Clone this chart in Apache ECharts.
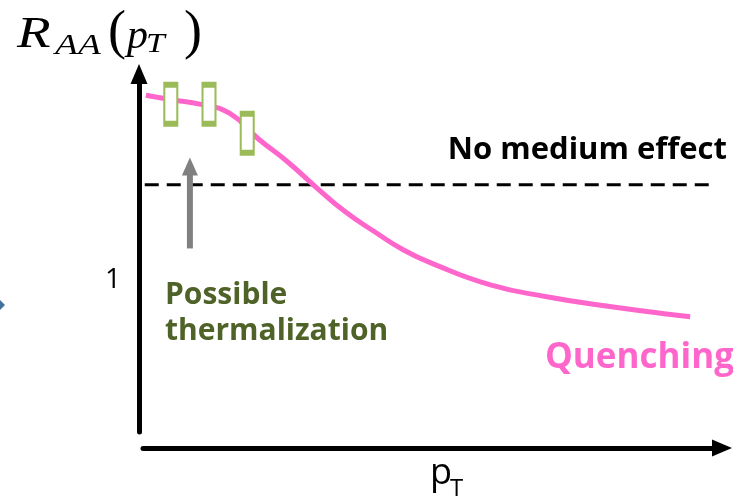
<!DOCTYPE html>
<html>
<head>
<meta charset="utf-8">
<script src="https://cdn.jsdelivr.net/npm/echarts@6/dist/echarts.min.js"></script>
<style>
html, body { margin: 0; padding: 0; background: #fff; }
#chart { width: 733px; height: 501px; }
</style>
</head>
<body>
<div id="chart"></div>
<script>
// schematic R_AA(pT), arbitrary units (y = 1 where the "1" label sits)
var curvePt = [0.05, 0.5, 1, 1.5, 2, 2.5, 3, 3.5, 4, 4.5, 5, 6, 7, 8, 9, 9.45];
var curveRaa = [2.22, 2.19, 2.16, 2.10, 1.93, 1.78, 1.61, 1.45, 1.32, 1.20, 1.11, 0.97, 0.89, 0.83, 0.78, 0.76];
var boxPt = [0.48, 1.14, 1.80];
var boxRaa = [2.16, 2.16, 1.97];
var refLevel = 1.63;          // "No medium effect"
var refRange = [0.03, 9.85];
var arrowPt = 0.81;
var arrowRaa = [1.21, 1.75];
var yTicks = [1];

var chart = echarts.init(document.getElementById('chart'));

var curveData = curvePt.map(function (x, i) { return [x, curveRaa[i]]; });
var boxData = boxPt.map(function (x, i) { return [x, boxRaa[i]]; });
var refData = refRange.map(function (x) { return [x, refLevel]; });

var serif = '"Liberation Serif"';

function txt(x, y, text, font, fill, align, sx) {
    return {
        type: 'text', x: x, y: y, scaleX: sx || 1,
        style: { text: text, font: font, fill: fill || '#000', align: align || 'left', verticalAlign: 'middle' }
    };
}

var option = {
    animation: false,
    backgroundColor: '#fff',
    grid: { left: 143, right: 11, top: 74, bottom: 69 },
    xAxis: {
        type: 'value',
        min: 0,
        max: 10,
        offset: 16,
        axisLine: {
            show: true,
            onZero: false,
            symbol: ['none', 'triangle'],
            symbolSize: [17, 20],
            lineStyle: { color: '#000', width: 5 }
        },
        axisTick: { show: false },
        axisLabel: { show: false },
        splitLine: { show: false }
    },
    yAxis: {
        type: 'value',
        min: 0,
        max: 2.36,
        interval: 1,
        offset: 4,
        axisLine: {
            show: true,
            onZero: false,
            symbol: ['none', 'triangle'],
            symbolSize: [17, 20],
            lineStyle: { color: '#000', width: 5 }
        },
        axisTick: { show: false },
        splitLine: { show: false },
        axisLabel: {
            margin: 18,
            color: '#000',
            fontSize: 28,
            fontFamily: 'Open Sans',
            formatter: function (v) { return yTicks.indexOf(v) >= 0 ? String(v) : ''; }
        }
    },
    series: [
        {
            type: 'line',
            data: refData,
            symbol: 'none',
            silent: true,
            lineStyle: { color: '#000', width: 3, type: [14, 8] },
            z: 1
        },
        {
            type: 'line',
            data: curveData,
            smooth: true,
            symbol: 'none',
            silent: true,
            lineStyle: { color: '#FF66CC', width: 5 },
            z: 2
        },
        {
            type: 'scatter',
            data: boxData,
            symbol: 'rect',
            symbolSize: [13, 39],
            silent: true,
            itemStyle: { color: '#fff', borderColor: '#9BBB59', borderWidth: 3.5, opacity: 1 },
            z: 3
        },
        {
            type: 'line',
            data: [
                { value: [arrowPt, arrowRaa[0]], symbol: 'none' },
                { value: [arrowPt, arrowRaa[1]], symbol: 'triangle', symbolSize: [16, 18] }
            ],
            showSymbol: true,
            silent: true,
            lineStyle: { color: '#808080', width: 6 },
            itemStyle: { color: '#808080' },
            z: 4
        }
    ],
    graphic: [
        // title R_AA(p_T), letters a little stretched sideways like the slide
        txt(17, 35.4, 'R', 'italic 44px ' + serif, '#000', 'left', 1.25),
        txt(55, 45.7, 'AA', 'italic 30px ' + serif, '#000', 'left', 1.25),
        txt(108, 34, '(', '54px ' + serif),
        txt(127, 37.5, 'p', 'italic 40px ' + serif, '#000', 'left', 1.05),
        txt(146, 44.3, 'T', 'italic 28px ' + serif, '#000', 'left', 1.2),
        txt(184, 34, ')', '54px ' + serif),
        // annotations
        txt(727, 150, 'No medium effect', 'bold 31px "Open Sans"', '#000', 'right'),
        txt(165, 295, 'Possible', 'bold 30px "Open Sans"', '#4F6228'),
        txt(165, 331, 'thermalization', 'bold 30px "Open Sans"', '#4F6228'),
        txt(545, 358, 'Quenching', 'bold 35px "Open Sans"', '#FF66CC'),
        // x axis name p_T
        txt(430, 474, 'p', '36px "Open Sans"'),
        txt(450, 489, 'T', '24px "Open Sans"'),
        // clipped slide chevron at the left edge
        { type: 'polygon', shape: { points: [[0, 300], [5, 305], [0, 310]] }, style: { fill: '#41719C' } }
    ]
};

chart.setOption(option);
</script>
</body>
</html>
